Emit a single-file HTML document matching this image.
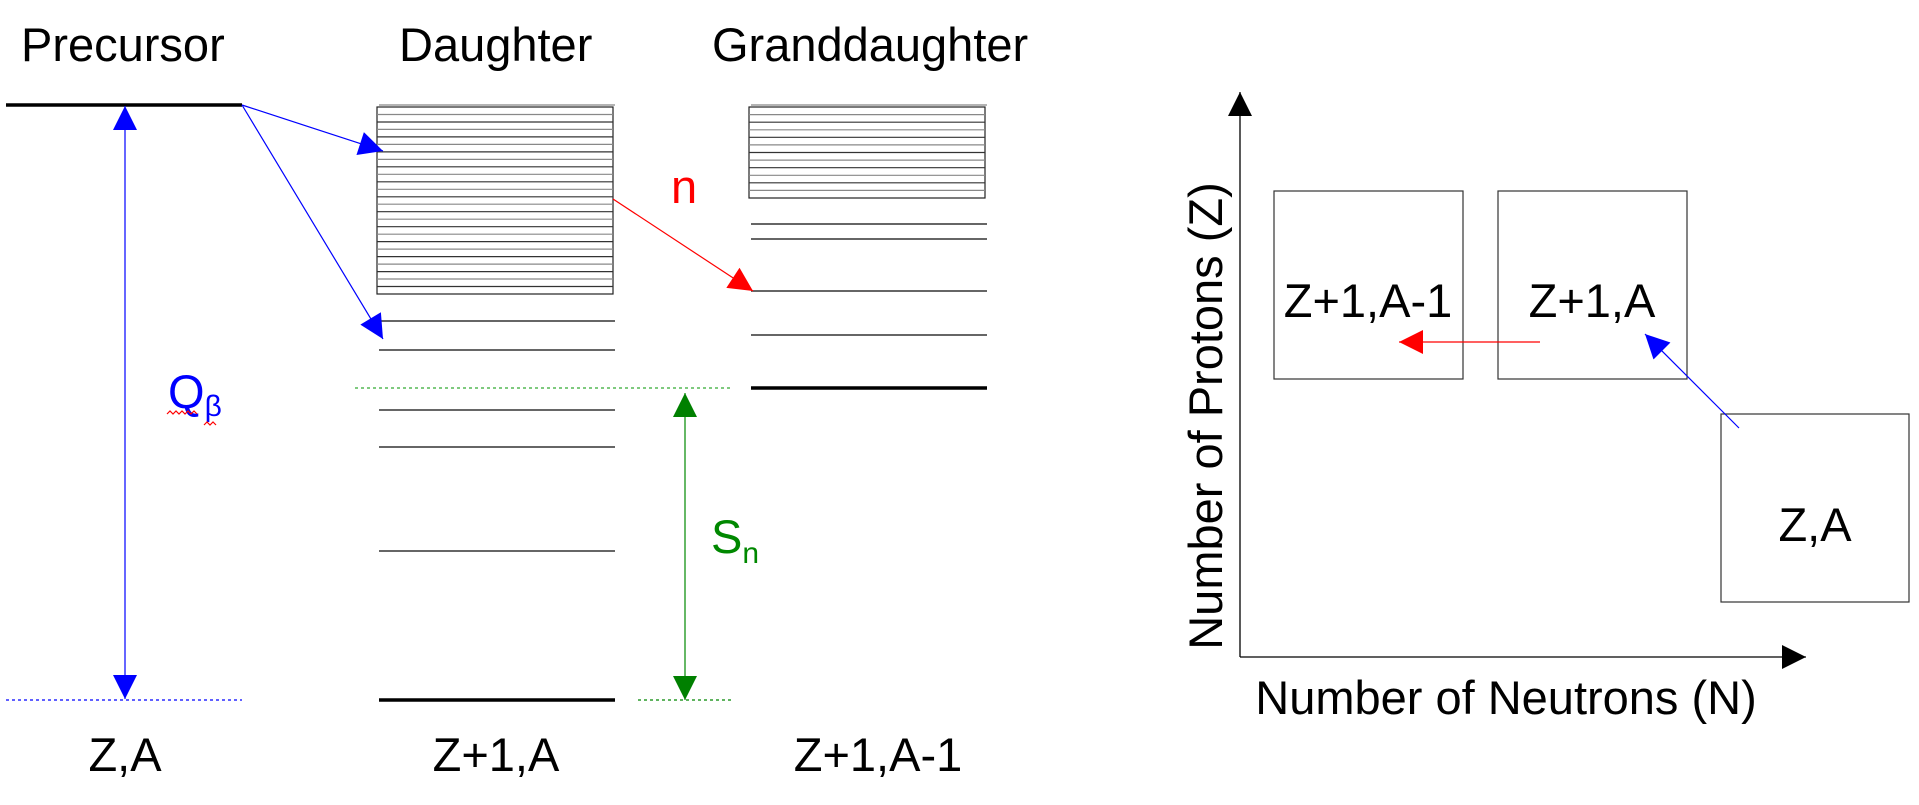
<!DOCTYPE html>
<html><head><meta charset="utf-8"><style>
html,body{margin:0;padding:0;background:#fff;}
svg{display:block;font-family:"Liberation Sans",sans-serif;}
</style></head><body>
<svg width="1919" height="805" viewBox="0 0 1919 805" xmlns="http://www.w3.org/2000/svg">
<defs>
<marker id="mb" viewBox="0 0 10 10" refX="10" refY="5" markerWidth="34" markerHeight="24" markerUnits="userSpaceOnUse" orient="auto-start-reverse"><path d="M0,0L10,5L0,10z" fill="#00f"/></marker>
<marker id="mr" viewBox="0 0 10 10" refX="10" refY="5" markerWidth="34" markerHeight="24" markerUnits="userSpaceOnUse" orient="auto-start-reverse"><path d="M0,0L10,5L0,10z" fill="#f00"/></marker>
<marker id="mg" viewBox="0 0 10 10" refX="10" refY="5" markerWidth="34" markerHeight="24" markerUnits="userSpaceOnUse" orient="auto-start-reverse"><path d="M0,0L10,5L0,10z" fill="#008000"/></marker>
<marker id="mk" viewBox="0 0 10 10" refX="10" refY="5" markerWidth="34" markerHeight="24" markerUnits="userSpaceOnUse" orient="auto"><path d="M0,0L10,5L0,10z" fill="#000"/></marker>
</defs>
<g font-size="47" fill="#000">
<text x="21" y="61">Precursor</text>
<text x="399" y="61">Daughter</text>
<text x="712" y="61">Granddaughter</text>
<text x="125" y="771" text-anchor="middle">Z,A</text>
<text x="496" y="771" text-anchor="middle">Z+1,A</text>
<text x="878" y="771" text-anchor="middle">Z+1,A-1</text>
</g>
<line x1="6" y1="105" x2="242" y2="105" stroke="#000" stroke-width="3.5"/>
<rect x="377" y="107" width="236" height="187" fill="none" stroke="#222" stroke-width="1.2"/>
<line x1="379" y1="105" x2="615" y2="105" stroke="#888" stroke-width="1.2"/>
<g stroke="#333" stroke-width="1.2">
<line x1="377" x2="613" y1="114.5" y2="114.5" stroke="#888"/>
<line x1="377" x2="613" y1="122" y2="122"/>
<line x1="377" x2="613" y1="129.4" y2="129.4" stroke="#888"/>
<line x1="377" x2="613" y1="136.9" y2="136.9"/>
<line x1="377" x2="613" y1="144.4" y2="144.4" stroke="#888"/>
<line x1="377" x2="613" y1="151.9" y2="151.9"/>
<line x1="377" x2="613" y1="159.4" y2="159.4" stroke="#888"/>
<line x1="377" x2="613" y1="166.8" y2="166.8"/>
<line x1="377" x2="613" y1="174.3" y2="174.3" stroke="#888"/>
<line x1="377" x2="613" y1="181.8" y2="181.8"/>
<line x1="377" x2="613" y1="189.3" y2="189.3" stroke="#888"/>
<line x1="377" x2="613" y1="196.8" y2="196.8"/>
<line x1="377" x2="613" y1="204.2" y2="204.2" stroke="#888"/>
<line x1="377" x2="613" y1="211.7" y2="211.7"/>
<line x1="377" x2="613" y1="219.2" y2="219.2" stroke="#888"/>
<line x1="377" x2="613" y1="226.7" y2="226.7"/>
<line x1="377" x2="613" y1="234.2" y2="234.2" stroke="#888"/>
<line x1="377" x2="613" y1="241.6" y2="241.6"/>
<line x1="377" x2="613" y1="249.1" y2="249.1" stroke="#888"/>
<line x1="377" x2="613" y1="256.6" y2="256.6"/>
<line x1="377" x2="613" y1="264.1" y2="264.1" stroke="#888"/>
<line x1="377" x2="613" y1="271.6" y2="271.6"/>
<line x1="377" x2="613" y1="279" y2="279" stroke="#888"/>
<line x1="377" x2="613" y1="286.5" y2="286.5"/>
</g>
<rect x="749" y="107" width="236" height="91" fill="none" stroke="#222" stroke-width="1.2"/>
<line x1="751" y1="105" x2="987" y2="105" stroke="#888" stroke-width="1.2"/>
<g stroke="#333" stroke-width="1.2">
<line x1="749" x2="985" y1="114.6" y2="114.6" stroke="#888"/>
<line x1="749" x2="985" y1="122.2" y2="122.2"/>
<line x1="749" x2="985" y1="129.8" y2="129.8" stroke="#888"/>
<line x1="749" x2="985" y1="137.3" y2="137.3"/>
<line x1="749" x2="985" y1="144.9" y2="144.9" stroke="#888"/>
<line x1="749" x2="985" y1="152.5" y2="152.5"/>
<line x1="749" x2="985" y1="160.1" y2="160.1" stroke="#888"/>
<line x1="749" x2="985" y1="167.7" y2="167.7"/>
<line x1="749" x2="985" y1="175.3" y2="175.3" stroke="#888"/>
<line x1="749" x2="985" y1="182.8" y2="182.8"/>
<line x1="749" x2="985" y1="190.4" y2="190.4" stroke="#888"/>
</g>
<g stroke="#333" stroke-width="1.4">
<line x1="751" y1="224" x2="987" y2="224"/>
<line x1="751" y1="239" x2="987" y2="239"/>
<line x1="751" y1="291" x2="987" y2="291"/>
<line x1="751" y1="335" x2="987" y2="335"/>
<line x1="379" y1="321" x2="615" y2="321"/>
<line x1="379" y1="350" x2="615" y2="350"/>
<line x1="379" y1="410" x2="615" y2="410"/>
<line x1="379" y1="447" x2="615" y2="447"/>
<line x1="379" y1="551" x2="615" y2="551"/>
</g>
<line x1="751" y1="388" x2="987" y2="388" stroke="#000" stroke-width="3.5"/>
<line x1="379" y1="700" x2="615" y2="700" stroke="#000" stroke-width="3.5"/>
<line x1="355" y1="388" x2="732" y2="388" stroke="#3a3" stroke-width="1.2" stroke-dasharray="3,3"/>
<line x1="6" y1="700" x2="242" y2="700" stroke="#00f" stroke-width="1.2" stroke-dasharray="3,3"/>
<line x1="638" y1="700" x2="732" y2="700" stroke="#080" stroke-width="1.2" stroke-dasharray="3,3"/>
<line x1="125" y1="106" x2="125" y2="699" stroke="#00f" stroke-width="1.2" marker-start="url(#mb)" marker-end="url(#mb)"/>
<line x1="685" y1="393" x2="685" y2="700" stroke="#080" stroke-width="1.2" marker-start="url(#mg)" marker-end="url(#mg)"/>
<line x1="242" y1="105" x2="383" y2="151" stroke="#00f" stroke-width="1.2" marker-end="url(#mb)"/>
<line x1="242" y1="105" x2="383" y2="339" stroke="#00f" stroke-width="1.2" marker-end="url(#mb)"/>
<line x1="613" y1="199" x2="753" y2="291" stroke="#f00" stroke-width="1.2" marker-end="url(#mr)"/>
<text x="168" y="408" font-size="47" fill="#00f">Q<tspan font-size="30" dy="8">β</tspan></text>
<path d="M167,414 l3,-3 3,3 3,-3 3,3 3,-3 3,3 3,-3 3,3 3,-3 3,3 M204,425 l3,-3 3,3 3,-3 3,3" stroke="#f00" stroke-width="1.2" fill="none"/>
<text x="711" y="553" font-size="47" fill="#080">S<tspan font-size="30" dy="10">n</tspan></text>
<text x="671" y="203" font-size="47" fill="#f00">n</text>
<line x1="1240" y1="657" x2="1240" y2="92" stroke="#000" stroke-width="1.3" marker-end="url(#mk)"/>
<line x1="1240" y1="657" x2="1806" y2="657" stroke="#000" stroke-width="1.3" marker-end="url(#mk)"/>
<g fill="none" stroke="#333" stroke-width="1.2">
<rect x="1274" y="191" width="189" height="188"/>
<rect x="1498" y="191" width="189" height="188"/>
<rect x="1721" y="414" width="188" height="188"/>
</g>
<g font-size="47" fill="#000" text-anchor="middle">
<text x="1368" y="317">Z+1,A-1</text>
<text x="1592" y="317">Z+1,A</text>
<text x="1815" y="541">Z,A</text>
<text x="1506" y="714">Number of Neutrons (N)</text>
<text transform="translate(1222,416) rotate(-90)">Number of Protons (Z)</text>
</g>
<line x1="1540" y1="342" x2="1399" y2="342" stroke="#f00" stroke-width="1.2" marker-end="url(#mr)"/>
<line x1="1739" y1="428" x2="1645" y2="334" stroke="#00f" stroke-width="1.2" marker-end="url(#mb)"/>
</svg>
</body></html>
